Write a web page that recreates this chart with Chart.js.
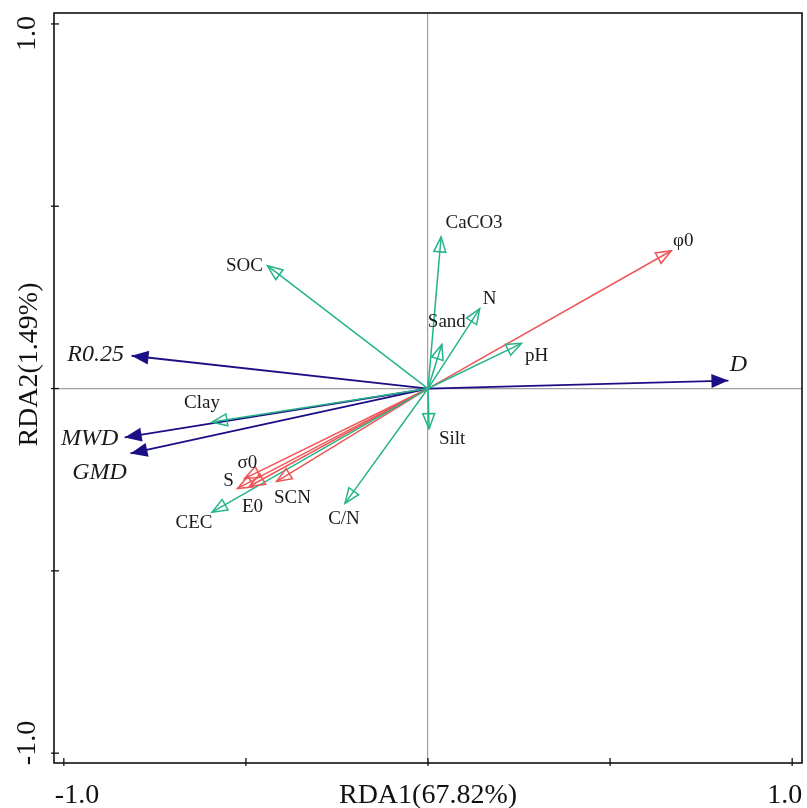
<!DOCTYPE html>
<html>
<head>
<meta charset="utf-8">
<script src="https://cdn.jsdelivr.net/npm/chart.js@4.4.0/dist/chart.umd.min.js"></script>
<style>
  html, body { margin: 0; padding: 0; background: #fff; }
  #wrap { width: 807px; height: 808px; }
</style>
</head>
<body>
<div id="wrap"><canvas id="rdaChart" width="807" height="808"></canvas></div>
<script>
// axis titles and tick labels
const axisTitles = ['RDA1(67.82%)', 'RDA2(1.49%)'];
const tickValues = [-1.0, -0.5, 0, 0.5, 1.0];
const tickLabels = ['-1.0', '1.0'];

// response variables (blue, filled heads)
const respNames = ['R0.25', 'MWD', 'GMD', 'D'];
const respX = [-0.814, -0.833, -0.817, 0.825];
const respY = [0.090, -0.134, -0.178, 0.022];

// soil properties (green, open heads)
const soilNames = ['SOC', 'CaCO3', 'Sand', 'N', 'pH', 'Silt', 'C/N', 'CEC', 'Clay'];
const soilX = [-0.441, 0.036, 0.038, 0.142, 0.257, 0.003, -0.228, -0.593, -0.593];
const soilY = [0.337, 0.416, 0.121, 0.219, 0.124, -0.110, -0.315, -0.339, -0.092];

// mechanical parameters (red, open heads)
const mechNames = ['φ0', 'σ0', 'S', 'E0', 'SCN'];
const mechX = [0.668, -0.504, -0.523, -0.490, -0.416];
const mechY = [0.378, -0.247, -0.274, -0.268, -0.255];

const BLUE = '#1c0f86';
const GREEN = '#26b38a';
const RED = '#ef5556';
const SERIF = '"Liberation Serif", "DejaVu Serif", serif';

// 标签相对箭头尖端的像素偏移
const labelOffset = {
  'R0.25': [-36, -1], 'MWD': [-35, 1], 'GMD': [-31, 19], 'D': [10, -16],
  'SOC': [-23, 0], 'CaCO3': [33, -14], 'Sand': [5, -22], 'N': [10, -10],
  'pH': [15, 13], 'Silt': [23, 10], 'C/N': [-1, 16], 'CEC': [-18, 11],
  'Clay': [-10, -19], 'φ0': [12, -10], 'σ0': [3, -16], 'S': [-9, -7],
  'E0': [3, 21], 'SCN': [16, 16]
};

function makeSets(names, xs, ys, color, filled, width) {
  return names.map((n, i) => ({
    label: n,
    data: [{ x: 0, y: 0 }, { x: xs[i], y: ys[i] }],
    showLine: true,
    borderColor: color,
    borderWidth: width,
    pointRadius: 0,
    fill: false,
    headFilled: filled,
    italic: filled
  }));
}

const datasets = [
  ...makeSets(soilNames, soilX, soilY, GREEN, false, 1.5),
  ...makeSets(mechNames, mechX, mechY, RED, false, 1.5),
  ...makeSets(respNames, respX, respY, BLUE, true, 1.8)
];

const arrowPlugin = {
  id: 'arrows',
  afterDatasetsDraw(chart) {
    const ctx = chart.ctx;
    chart.data.datasets.forEach((ds, i) => {
      const pts = chart.getDatasetMeta(i).data;
      const x0 = pts[0].x, y0 = pts[0].y, x1 = pts[1].x, y1 = pts[1].y;
      const ang = Math.atan2(y1 - y0, x1 - x0);
      const len = ds.headFilled ? 17 : 15;
      const hw = ds.headFilled ? 7 : 6;
      const bx = x1 - len * Math.cos(ang), by = y1 - len * Math.sin(ang);
      const px = -Math.sin(ang), py = Math.cos(ang);
      ctx.save();
      ctx.beginPath();
      ctx.moveTo(x1, y1);
      ctx.lineTo(bx + hw * px, by + hw * py);
      ctx.lineTo(bx - hw * px, by - hw * py);
      ctx.closePath();
      if (ds.headFilled) {
        ctx.fillStyle = ds.borderColor;
        ctx.fill();
      } else {
        ctx.strokeStyle = ds.borderColor;
        ctx.lineWidth = 1.5;
        ctx.stroke();
      }
      // label
      const off = labelOffset[ds.label] || [0, 0];
      ctx.fillStyle = '#1a1a1a';
      ctx.textAlign = 'center';
      ctx.textBaseline = 'middle';
      ctx.font = ds.italic ? 'italic 24px ' + SERIF : '19px ' + SERIF;
      ctx.fillText(ds.label, x1 + off[0], y1 + off[1]);
      ctx.restore();
    });
  }
};

const framePlugin = {
  id: 'frame',
  afterDraw(chart) {
    const ctx = chart.ctx;
    const a = chart.chartArea;
    const xs = chart.scales.x, ys = chart.scales.y;
    ctx.save();
    ctx.strokeStyle = '#111';
    ctx.lineWidth = 1.6;
    ctx.strokeRect(a.left, a.top, a.right - a.left, a.bottom - a.top);
    // tick marks
    ctx.lineWidth = 1.3;
    tickValues.forEach(v => {
      const px = xs.getPixelForValue(v);
      ctx.beginPath();
      ctx.moveTo(px, a.bottom - 5);
      ctx.lineTo(px, a.bottom + 3);
      ctx.stroke();
      const py = ys.getPixelForValue(v);
      ctx.beginPath();
      ctx.moveTo(a.left - 3, py);
      ctx.lineTo(a.left + 5, py);
      ctx.stroke();
    });
    ctx.fillStyle = '#111';
    ctx.font = '28px ' + SERIF;
    ctx.textBaseline = 'alphabetic';
    // x tick labels
    ctx.textAlign = 'left';
    ctx.fillText(tickLabels[0], xs.getPixelForValue(-1) - 9, 803);
    ctx.textAlign = 'right';
    ctx.fillText(tickLabels[1], xs.getPixelForValue(1) + 10, 803);
    // x title
    ctx.textAlign = 'center';
    ctx.fillText(axisTitles[0], xs.getPixelForValue(0), 803);
    // y tick labels and title (rotated)
    const yl = (txt, y, align) => {
      ctx.save();
      ctx.translate(35, y);
      ctx.rotate(-Math.PI / 2);
      ctx.textAlign = align;
      ctx.fillText(txt, 0, 0);
      ctx.restore();
    };
    yl(tickLabels[1], ys.getPixelForValue(1) + 27, 'left');
    yl(tickLabels[0], ys.getPixelForValue(-1) + 12, 'left');
    ctx.save();
    ctx.translate(37, ys.getPixelForValue(0) - 24);
    ctx.rotate(-Math.PI / 2);
    ctx.textAlign = 'center';
    ctx.fillText(axisTitles[1], 0, 0);
    ctx.restore();
    ctx.restore();
  }
};

const zeroGrid = {
  display: true,
  drawTicks: false,
  lineWidth: 1.2,
  color: c => (c.tick && c.tick.value === 0 ? '#a0a0a0' : 'rgba(0,0,0,0)')
};

new Chart(document.getElementById('rdaChart').getContext('2d'), {
  type: 'scatter',
  data: { datasets: datasets },
  options: {
    responsive: false,
    animation: false,
    layout: { padding: { top: 13, right: 5, left: 0, bottom: 0 } },
    plugins: { legend: { display: false }, tooltip: { enabled: false } },
    scales: {
      x: {
        type: 'linear', min: -1.027, max: 1.027,
        ticks: { display: false, stepSize: 0.5 },
        grid: zeroGrid,
        border: { display: false },
        afterFit: s => { s.height = 45; }
      },
      y: {
        type: 'linear', min: -1.027, max: 1.03,
        ticks: { display: false, stepSize: 0.5 },
        grid: zeroGrid,
        border: { display: false },
        afterFit: s => { s.width = 54; }
      }
    }
  },
  plugins: [arrowPlugin, framePlugin]
});
</script>
</body>
</html>
